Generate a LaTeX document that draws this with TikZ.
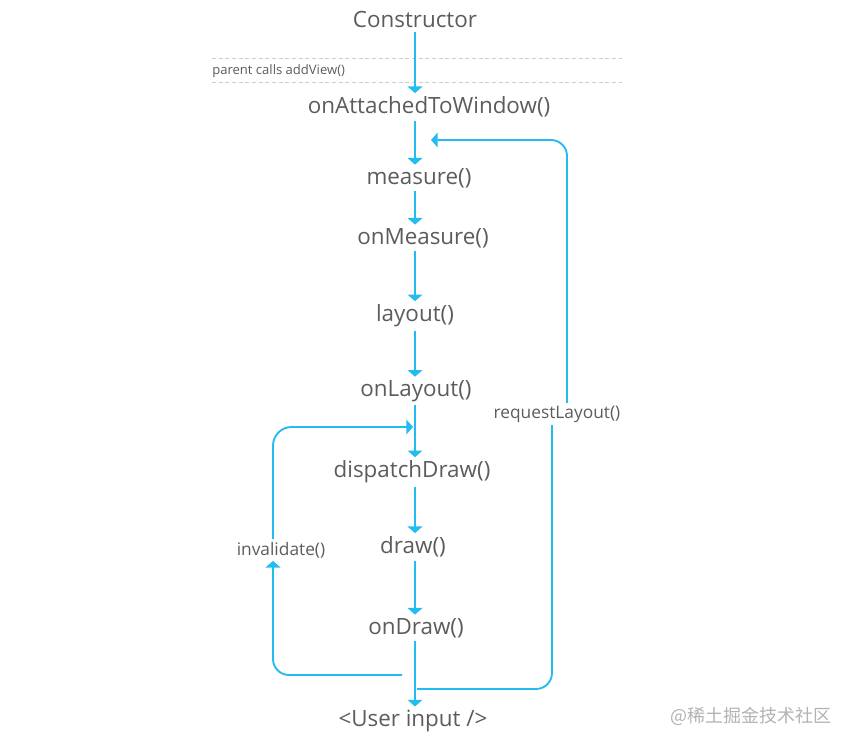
\documentclass[tikz,border=0pt]{standalone}
\usepackage{fontspec}
\setmainfont{Open Sans}
\newfontfamily\cjkfont{Noto Sans CJK SC}
\usetikzlibrary{positioning,arrows.meta}

\definecolor{flowblue}{RGB}{35,188,240}
\definecolor{txtgray}{RGB}{92,92,92}
\definecolor{dashgray}{RGB}{205,205,205}

\tikzset{
    callnode/.style={font=\fontsize{16.8}{19}\selectfont, text=txtgray, inner sep=2.5pt},
    note/.style={font=\fontsize{13}{15}\selectfont, text=txtgray, inner sep=2pt},
    flow/.style={draw=flowblue, line width=1.4pt, -{Triangle[width=11pt,length=5pt]}},
    loopline/.style={draw=flowblue, line width=1.4pt},
    sep line/.style={draw=dashgray, line width=0.6pt, dash pattern=on 3pt off 2pt}
}

\begin{document}
\begin{tikzpicture}[x=0.75pt, y=-0.75pt]
    \useasboundingbox (0,0) rectangle (864,756);

    % vertical guides
    \coordinate (axis) at (415,0);
    \coordinate (leftx) at (273,0);
    \coordinate (lowx) at (552,0);
    \coordinate (upx) at (567,0);

    % separators
    \draw[sep line] (212,58) -- (622,58);
    \draw[sep line] (212,82) -- (622,82);
    \node[anchor=west, font=\fontsize{9.8}{11}\selectfont, text=txtgray, inner sep=0pt] (parent) at (212,71) {parent calls addView()};

    % call chain
    \node[callnode] (cons) at (415,20) {Constructor};
    \node[callnode] (attach) at (429,107) {onAttachedToWindow()};
    \node[callnode] (measure) at (419,178) {measure()};
    \node[callnode] (onmeasure) at (423,238) {onMeasure()};
    \node[callnode] (layout) at (415,316) {layout()};
    \node[callnode] (onlayout) at (416,391) {onLayout()};
    \node[callnode] (dispatch) at (412,472) {dispatchDraw()};
    \node[callnode] (draw) at (413,547) {draw()};
    \node[callnode] (ondraw) at (416,628) {onDraw()};
    \node[callnode] (user) at (413,721) {<User input />};

    \node[note] (req) at (557,414) {requestLayout()};
    \node[note] (inv) at (281,550) {invalidate()};

    \node[font=\cjkfont\fontsize{13.5}{15}\selectfont, text=gray!60, inner sep=0pt] (mark) at (751,716) {@稀土掘金技术社区};

    % arrows down the chain
    \draw[flow] (cons.south -| axis) -- (attach.north -| axis);
    \draw[flow] (attach.south -| axis) -- (measure.north -| axis);
    \draw[flow] (measure.south -| axis) -- (onmeasure.north -| axis);
    \draw[flow] (onmeasure.south -| axis) -- (layout.north -| axis);
    \draw[flow] (layout.south -| axis) -- (onlayout.north -| axis);
    \draw[flow] (onlayout.south -| axis) -- (dispatch.north -| axis);
    \draw[flow] (dispatch.south -| axis) -- (draw.north -| axis);
    \draw[flow] (draw.south -| axis) -- (ondraw.north -| axis);
    \draw[flow] (ondraw.south -| axis) -- (user.north -| axis);

    % invalidate loop
    \coordinate (invfoot) at (402,675);
    \coordinate (drawin) at (413,427);
    \draw[flow, rounded corners=12pt] (invfoot) -| (inv.south -| leftx);
    \draw[flow, rounded corners=14pt] (inv.north -| leftx) |- (drawin);

    % requestLayout loop
    \coordinate (reqfoot) at (417,689);
    \coordinate (attachin) at (431,140);
    \draw[loopline, rounded corners=12pt] (reqfoot) -| (req.south -| lowx);
    \draw[flow, rounded corners=12pt] (req.north -| upx) |- (attachin);
\end{tikzpicture}
\end{document}
